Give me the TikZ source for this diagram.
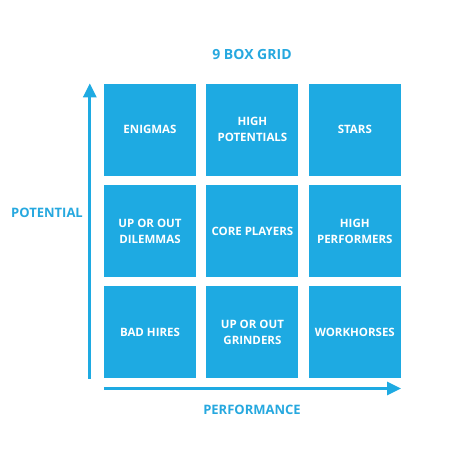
\documentclass[tikz,border=0pt]{standalone}
\usepackage{fontspec}
\setmainfont{Open Sans}
\usetikzlibrary{arrows.meta, positioning}
\definecolor{gridblue}{HTML}{1EAAE2}
\definecolor{labblue}{HTML}{26A8DF}

\begin{document}
\begin{tikzpicture}[x=1pt, y=-1pt,
  cell/.style={fill=gridblue, minimum width=92pt, minimum height=92pt,
    inner sep=0pt, text=white, align=center,
    font=\fontsize{11.5}{16}\selectfont\bfseries},
  axislabel/.style={text=labblue, font=\fontsize{13}{15}\selectfont\bfseries},
  axis/.style={gridblue, line width=3pt, -{Triangle[length=14pt, width=13pt]}},
  node distance=9pt and 10pt]

% Page
\useasboundingbox (0,0) rectangle (474,474);

% Title
\node[text=labblue, font=\fontsize{14}{17}\selectfont\bfseries] (title) at (252,54) {9 BOX GRID};

% ================================================================
% GRID: rows = potential (top high), columns = performance
% ================================================================
\node[cell] (enigmas) at (150,129.5) {ENIGMAS};
\node[cell, right=of enigmas] (highpot) {HIGH\\POTENTIALS};
\node[cell, right=of highpot] (stars) {STARS};

\node[cell, below=of enigmas] (dilemmas) {UP OR OUT\\DILEMMAS};
\node[cell, below=of highpot] (core) {CORE PLAYERS};
\node[cell, below=of stars] (highperf) {HIGH\\PERFORMERS};

\node[cell, below=of dilemmas] (badhires) {BAD HIRES};
\node[cell, below=of core] (grinders) {UP OR OUT\\GRINDERS};
\node[cell, below=of highperf] (workhorses) {WORKHORSES};

% Axes
\coordinate (ybot) at ([xshift=-14pt]badhires.south west);
\coordinate (ytop) at ([xshift=-14pt]enigmas.north west);
\draw[axis] (ybot) -- (ytop);

\coordinate (xleft) at ([yshift=-10pt]badhires.south west);
\coordinate (xright) at ([yshift=-10pt]workhorses.south east);
\draw[axis] (xleft) -- (xright);

% Axis labels
\node[axislabel] (potential) at (47,213) {POTENTIAL};
\node[axislabel] (performance) at (252,410) {PERFORMANCE};

\end{tikzpicture}
\end{document}
